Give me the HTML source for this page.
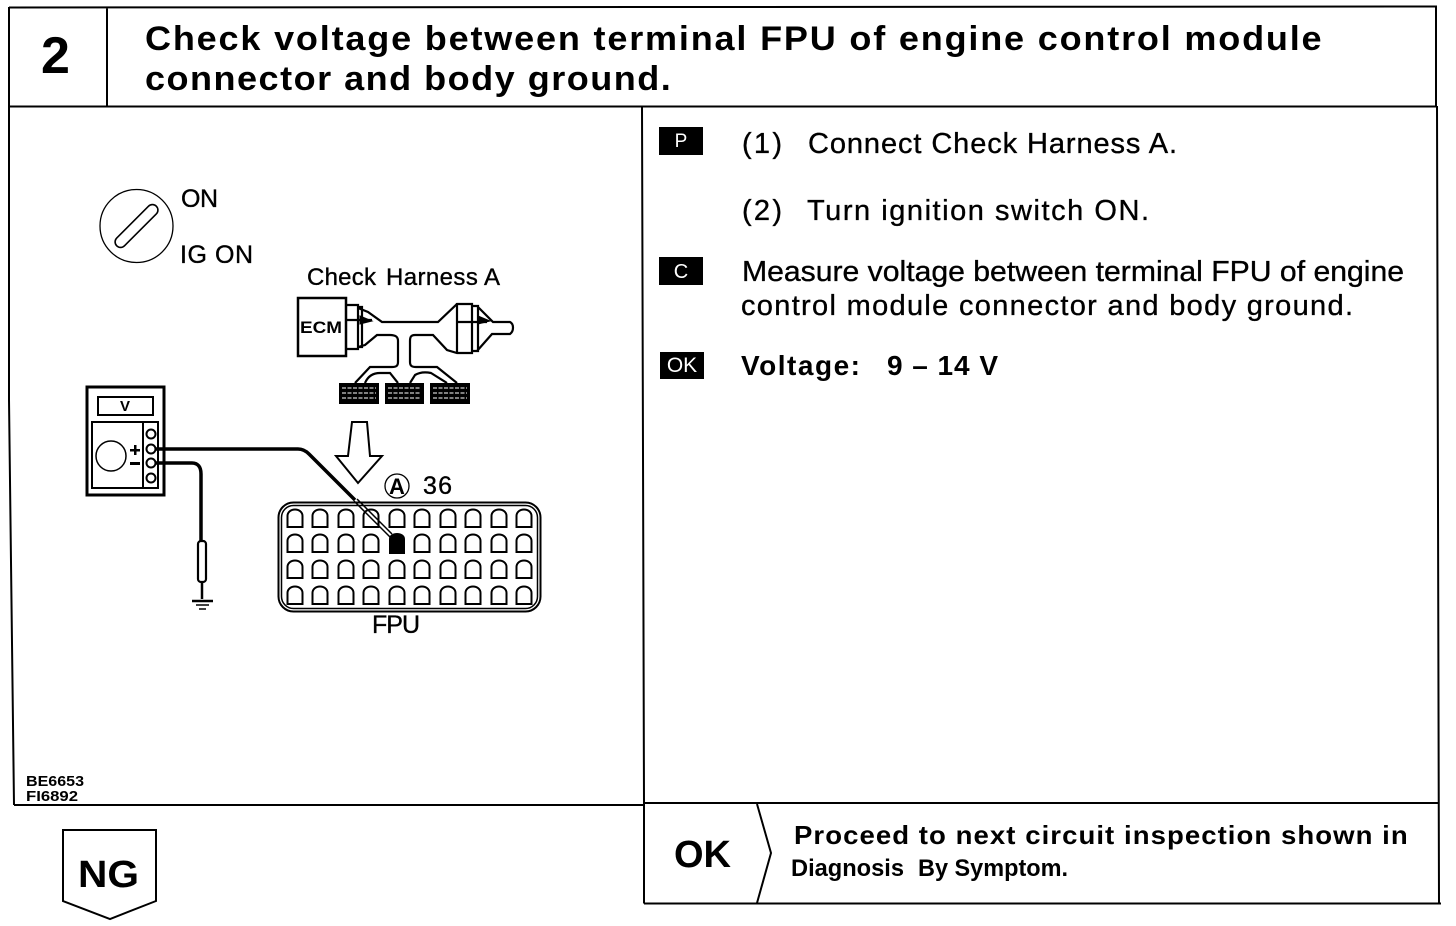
<!DOCTYPE html>
<html><head><meta charset="utf-8"><style>
html,body{margin:0;padding:0;background:#fff}
svg{display:block}
text{font-family:"Liberation Sans",sans-serif;fill:#000}
.b{font-weight:bold}
.r{stroke:#000;stroke-width:.35}
</style></head><body>
<svg width="1456" height="926" viewBox="0 0 1456 926" xmlns="http://www.w3.org/2000/svg">
<rect width="1456" height="926" fill="#fff"/>
<g fill="none" stroke="#000" stroke-width="2">
<path d="M9 7.500L1436 6.500V106M9 7V400L14 805M10 106.500H1437M107 7V106M642 106L644 804V903.500M14 805H644M644 803H1438M1437 106L1439 904M644 903.500H1441"/>
<path d="M757 804L771 853L757 903" />
<path d="M63 830H156V901L110 919L63 901Z"/>
</g>
<text class="b" x="41" y="73" font-size="52">2</text>
<text class="b" transform="translate(145 50) scale(1.06 1)" font-size="34" textLength="1110" lengthAdjust="spacing">Check voltage between terminal FPU of engine control module</text>
<text class="b" transform="translate(145 90) scale(1.06 1)" font-size="34" textLength="496" lengthAdjust="spacing">connector and body ground.</text>

<rect x="659" y="127" width="44" height="28"/>
<text x="681" y="147" font-size="19" text-anchor="middle" style="fill:#fff">P</text>
<text class="r" x="742" y="153" font-size="29" textLength="40" lengthAdjust="spacing">(1)</text>
<text class="r" x="808" y="153" font-size="29" textLength="369" lengthAdjust="spacing">Connect Check Harness A.</text>
<text class="r" x="742" y="220" font-size="29" textLength="40" lengthAdjust="spacing">(2)</text>
<text class="r" x="807" y="220" font-size="29" textLength="342" lengthAdjust="spacing">Turn ignition switch ON.</text>
<rect x="659" y="257" width="44" height="28"/>
<text x="681" y="278" font-size="20" text-anchor="middle" style="fill:#fff">C</text>
<text class="r" x="742" y="281" font-size="29" textLength="662" lengthAdjust="spacingAndGlyphs">Measure voltage between terminal FPU of engine</text>
<text class="r" x="741" y="315" font-size="29" textLength="612" lengthAdjust="spacing">control module connector and body ground.</text>
<rect x="660" y="352" width="44" height="27"/>
<text x="682" y="372" font-size="21" text-anchor="middle" style="fill:#fff">OK</text>
<text class="b" x="741" y="375" font-size="28" textLength="119" lengthAdjust="spacing">Voltage:</text>
<text class="b" x="887" y="375" font-size="28" textLength="111" lengthAdjust="spacing">9 – 14 V</text>

<text class="b" x="674" y="867" font-size="38" textLength="57" lengthAdjust="spacing">OK</text>
<text class="b" transform="translate(794 844) scale(1.06 1)" font-size="26" textLength="579" lengthAdjust="spacing">Proceed to next circuit inspection shown in</text>
<text class="b" x="791" y="876" font-size="24" textLength="113" lengthAdjust="spacingAndGlyphs">Diagnosis</text>
<text class="b" x="918" y="876" font-size="24" textLength="150" lengthAdjust="spacingAndGlyphs">By Symptom.</text>
<text class="b" x="78" y="887" font-size="38" textLength="61" lengthAdjust="spacingAndGlyphs">NG</text>
<text class="b" x="26" y="786" font-size="15" textLength="58" lengthAdjust="spacingAndGlyphs">BE6653</text>
<text class="b" x="26" y="801" font-size="15" textLength="52" lengthAdjust="spacingAndGlyphs">FI6892</text>

<!-- ignition -->
<circle cx="136.500" cy="226" r="36.500" fill="none" stroke="#000" stroke-width="1.300"/>
<rect x="108.500" y="220.500" width="56" height="11" rx="5.500" transform="rotate(-45 136.500 226)" fill="none" stroke="#000" stroke-width="1.600"/>
<text class="r" x="181" y="207" font-size="25" textLength="37" lengthAdjust="spacing">ON</text>
<text class="r" x="180" y="263" font-size="25" textLength="73" lengthAdjust="spacing">IG ON</text>

<!-- harness -->
<text class="r" x="307" y="285" font-size="24" textLength="69" lengthAdjust="spacing">Check</text>
<text class="r" x="386" y="285" font-size="24" textLength="114" lengthAdjust="spacing">Harness A</text>
<g fill="none" stroke="#000" stroke-width="2.200">
<path d="M298 298H346V356H298Z" stroke-width="2.500"/>
<path d="M346 305H358V349H346M358 307H362V347H358M346 320H372"/>
<path d="M358 308L368 312L382 322H438L457 304H472V353H457L447 350L433 335H415C411 335 410 337 410 341V362C410 366 412 367 416 367H437L457 383"/>
<path d="M358 347L365 345L377 335H390C396 335 398 337 398 341V362C398 366 396 367 392 367H370L355 383"/>
<path d="M365 383C368 376 373 373 380 373H390L398 383M410 383L415 375C420 372 426 372 431 373L447 383"/>
<path d="M457 303V353M472 306H478V351H472M457 322H487M478 307L493 322H510C514 324 514 331 510 334H492L477 351"/>
<path d="M360 316L372 321L360 324ZM478 316L490 321L478 324Z" fill="#000" stroke-width="1"/>
</g>
<rect x="339" y="383" width="40" height="21"/><rect x="385" y="383" width="39" height="21"/><rect x="430" y="383" width="40" height="21"/>
<g stroke="#fff" stroke-width="1" fill="none">
<path d="M342 388H376M342 393H376M342 398H376M388 388H421M388 393H421M388 398H421M433 388H467M433 393H467M433 398H467" stroke-dasharray="4 1.500"/>
</g>
<rect x="300" y="318" width="43" height="17" fill="#fff"/>
<text class="b" x="300" y="333" font-size="17" textLength="42" lengthAdjust="spacingAndGlyphs">ECM</text>

<!-- arrow -->
<path d="M352 422H367L370 456H382L358 483L336 456H348Z" fill="none" stroke="#000" stroke-width="2"/>

<!-- meter -->
<g fill="none" stroke="#000" stroke-width="2">
<rect x="87" y="387" width="77" height="108" stroke-width="3"/>
<rect x="98" y="397" width="55" height="18"/>
<rect x="92" y="422" width="66" height="66"/>
<rect x="143" y="422" width="15" height="66"/>
<circle cx="111" cy="456" r="15" stroke-width="1.500"/>
<circle cx="151" cy="434" r="4.500"/><circle cx="151" cy="449" r="4.500"/><circle cx="151" cy="463" r="4.500"/><circle cx="151" cy="478" r="4.500"/>
</g>
<text class="b" x="125" y="411" font-size="15" text-anchor="middle">V</text>
<rect x="130" y="449" width="10" height="2.500"/><rect x="134" y="445" width="2.500" height="10"/><rect x="130" y="462" width="10" height="3"/>
<g fill="none" stroke="#000">
<path d="M155 449H298C303 449 306 451 309 454L355 500" stroke-width="3.500"/>
<path d="M155 463H192C198 463 201 467 201 474V542" stroke-width="3.500"/>
<rect x="198" y="541" width="8" height="41" rx="3" stroke-width="2.200"/>
<path d="M202 582V599" stroke-width="2.500"/>
<path d="M192 601H213" stroke-width="2.500"/><path d="M196 605H209M199 609H206" stroke-width="1.500"/>
</g>

<!-- connector -->
<rect x="278.500" y="502.500" width="262" height="109" rx="15" fill="none" stroke="#000" stroke-width="2"/>
<rect x="281.500" y="505.500" width="256" height="103" rx="12" fill="none" stroke="#000" stroke-width="1.500"/>
<defs><path id="p" d="M-7.500 9V-2C-7.500 -6 -4 -8.500 0 -8.500C4 -8.500 7.500 -6 7.500 -2V9Z" fill="#fff" stroke="#000" stroke-width="2"/></defs>
<g id="pins">
<use href="#p" x="295" y="518"/><use href="#p" x="320" y="518"/><use href="#p" x="346" y="518"/><use href="#p" x="371" y="518"/><use href="#p" x="397" y="518"/><use href="#p" x="422" y="518"/><use href="#p" x="448" y="518"/><use href="#p" x="473" y="518"/><use href="#p" x="499" y="518"/><use href="#p" x="524" y="518"/>
<use href="#p" x="295" y="543"/><use href="#p" x="320" y="543"/><use href="#p" x="346" y="543"/><use href="#p" x="371" y="543"/><use href="#p" x="422" y="543"/><use href="#p" x="448" y="543"/><use href="#p" x="473" y="543"/><use href="#p" x="499" y="543"/><use href="#p" x="524" y="543"/>
<use href="#p" x="295" y="569"/><use href="#p" x="320" y="569"/><use href="#p" x="346" y="569"/><use href="#p" x="371" y="569"/><use href="#p" x="397" y="569"/><use href="#p" x="422" y="569"/><use href="#p" x="448" y="569"/><use href="#p" x="473" y="569"/><use href="#p" x="499" y="569"/><use href="#p" x="524" y="569"/>
<use href="#p" x="295" y="595"/><use href="#p" x="320" y="595"/><use href="#p" x="346" y="595"/><use href="#p" x="371" y="595"/><use href="#p" x="397" y="595"/><use href="#p" x="422" y="595"/><use href="#p" x="448" y="595"/><use href="#p" x="473" y="595"/><use href="#p" x="499" y="595"/><use href="#p" x="524" y="595"/>
</g>
<path d="M389 554V539C389 535 393 533 397 533C401 533 405 535 405 539V554Z"/>
<path d="M357 499L392 534M354 501L390 537" fill="none" stroke="#000" stroke-width="1.500"/>
<circle cx="397" cy="486" r="12" fill="none" stroke="#000" stroke-width="1.300"/>
<text class="b" x="397" y="494" font-size="22" text-anchor="middle">A</text>
<text class="r" x="423" y="494" font-size="25" textLength="29" lengthAdjust="spacing">36</text>
<text class="r" x="372" y="633" font-size="25" textLength="48" lengthAdjust="spacing">FPU</text>
</svg>
</body></html>
